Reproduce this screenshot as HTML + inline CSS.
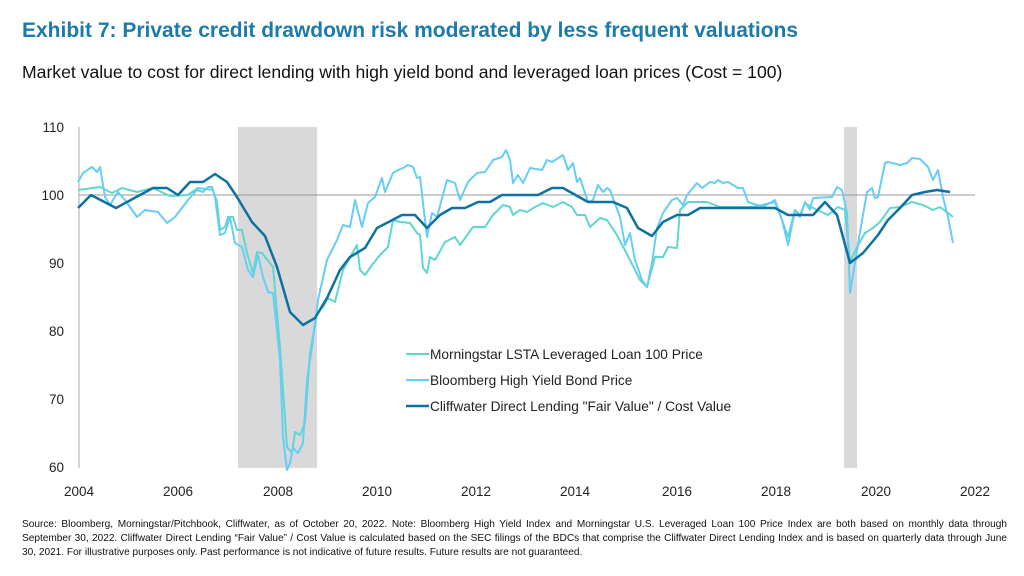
<!DOCTYPE html>
<html><head><meta charset="utf-8"><style>
body{margin:0;width:1024px;height:576px;background:#fff;font-family:"Liberation Sans",sans-serif;position:relative;overflow:hidden}
.t{position:absolute;left:22px;top:19px;font-size:21px;font-weight:bold;color:#1b7bab}
.s{position:absolute;left:22px;top:62px;font-size:17.6px;color:#111;white-space:nowrap}
.f{position:absolute;left:22px;top:518px;width:985px;font-size:10.1px;line-height:14px;color:#111;text-align:justify}
</style></head><body>
<div class="t">Exhibit 7: Private credit drawdown risk moderated by less frequent valuations</div>
<div class="s">Market value to cost for direct lending with high yield bond and leveraged loan prices (Cost = 100)</div>
<svg width="1024" height="576" style="position:absolute;left:0;top:0">
<rect x="238" y="127" width="79" height="341" fill="#d9d9d9"/>
<rect x="844" y="127" width="13" height="341" fill="#d9d9d9"/>
<line x1="79" y1="127" x2="79" y2="468" stroke="#aaa"/>
<line x1="79" y1="195" x2="975" y2="195" stroke="#999"/>
<g font-size="13.5" fill="#222" text-anchor="end" font-family="Liberation Sans">
<text x="64" y="132">110</text><text x="64" y="200">100</text><text x="64" y="268">90</text><text x="64" y="336">80</text><text x="64" y="404">70</text><text x="64" y="472">60</text></g>
<g font-size="13.5" fill="#222" text-anchor="middle" font-family="Liberation Sans">
<text x="79" y="496">2004</text><text x="178" y="496">2006</text><text x="278" y="496">2008</text><text x="377" y="496">2010</text><text x="476" y="496">2012</text><text x="575" y="496">2014</text><text x="677" y="496">2016</text><text x="776" y="496">2018</text><text x="876" y="496">2020</text><text x="975" y="496">2022</text></g>
<g fill="none" stroke-width="2" stroke-linejoin="round">
<polyline stroke="#5fd6cf" points="78,190 100,187 112,193 122,188 137,192 153,188 170,196 188,195 198,188 213,190 217,202 220,230 225,227 228,217 233,217 237,230 242,230 247,253 253,273 257,252 262,253 273,267 280,347 287,447 292,453 295,432 300,435 305,423 310,353 317,313 323,307 328,298 335,302 343,270 353,252 357,245 360,270 365,275 372,265 380,255 388,247 393,220 400,222 410,223 417,233 420,235 423,268 427,273 430,257 435,260 445,242 455,237 460,245 473,227 485,227 493,215 503,205 510,207 513,215 520,210 527,212 535,207 543,203 553,207 563,202 572,207 577,215 585,215 590,227 600,218 607,220 617,235 630,260 640,280 647,287 655,257 663,257 668,247 677,248 680,210 688,202 707,202 720,207 737,207 753,207 775,202 782,220 788,237 795,210 800,215 805,203 813,208 828,215 838,207 845,210 850,262 857,247 865,233 873,228 880,222 890,208 900,207 912,202 923,205 933,210 940,207 948,213 953,217"/>
<polyline stroke="#67cdf5" points="78,182 83,173 92,167 97,172 100,167 105,197 110,205 118,192 125,200 137,217 145,210 158,212 167,223 175,217 188,200 197,190 203,192 208,187 212,187 215,197 220,235 225,233 230,217 235,243 242,247 248,270 253,277 258,255 263,277 268,292 273,293 280,360 283,437 287,470 290,463 293,448 298,453 303,443 307,380 312,347 318,300 327,260 337,240 343,225 350,227 355,200 362,227 368,203 375,197 382,178 385,192 393,173 398,170 403,168 408,165 413,167 417,178 420,177 425,220 427,237 432,213 437,217 447,180 455,183 460,200 468,182 477,173 485,172 493,160 502,157 506,150 510,160 513,183 518,175 523,183 530,168 542,170 547,160 552,162 563,155 568,170 573,163 577,182 580,178 588,202 593,200 598,185 603,192 607,188 610,190 620,217 625,245 630,233 635,260 642,280 647,287 652,263 657,228 663,213 672,200 677,198 683,205 687,195 697,183 702,188 710,182 715,183 718,180 723,183 728,182 738,188 743,188 748,202 763,207 775,200 782,220 788,245 795,210 800,217 805,202 810,210 813,198 832,197 837,187 842,190 847,213 850,293 855,263 860,232 867,192 872,188 875,198 878,197 885,163 888,162 900,165 907,163 912,158 920,159 928,167 933,180 938,170 943,197 948,217 953,243"/>
<polyline stroke="#0f71a0" stroke-width="2.5" points="78,208 91,195 116,208 153,188 167,188 178,195 190,182 203,182 215,174 227,182 237,197 252,222 265,236 277,267 290,312 303,325 315,318 327,298 340,270 350,257 365,248 377,228 402,215 415,215 427,228 440,215 452,208 465,208 478,202 490,202 502,195 538,195 552,188 563,188 588,202 613,202 627,208 638,228 652,236 663,222 677,215 688,215 700,208 775,208 788,215 813,215 825,202 837,215 850,263 863,253 878,235 888,220 900,208 912,195 925,192 937,190 950,192"/>
</g>
<line x1="406" y1="354" x2="429" y2="354" stroke="#5fd6cf" stroke-width="2"/>
<line x1="406" y1="380" x2="429" y2="380" stroke="#67cdf5" stroke-width="2"/>
<line x1="406" y1="406" x2="429" y2="406" stroke="#0f71a0" stroke-width="2.5"/>
<g font-size="13.7" fill="#222" font-family="Liberation Sans">
<text x="430" y="359">Morningstar LSTA Leveraged Loan 100 Price</text>
<text x="430" y="385">Bloomberg High Yield Bond Price</text>
<text x="430" y="411">Cliffwater Direct Lending "Fair Value" / Cost Value</text></g>
</svg>
<div class="f">Source: Bloomberg, Morningstar/Pitchbook, Cliffwater, as of October 20, 2022. Note: Bloomberg High Yield Index and Morningstar U.S. Leveraged Loan 100 Price Index are both based on monthly data through September 30, 2022. Cliffwater Direct Lending “Fair Value” / Cost Value is calculated based on the SEC filings of the BDCs that comprise the Cliffwater Direct Lending Index and is based on quarterly data through June 30, 2021. For illustrative purposes only. Past performance is not indicative of future results. Future results are not guaranteed.</div>
</body></html>
